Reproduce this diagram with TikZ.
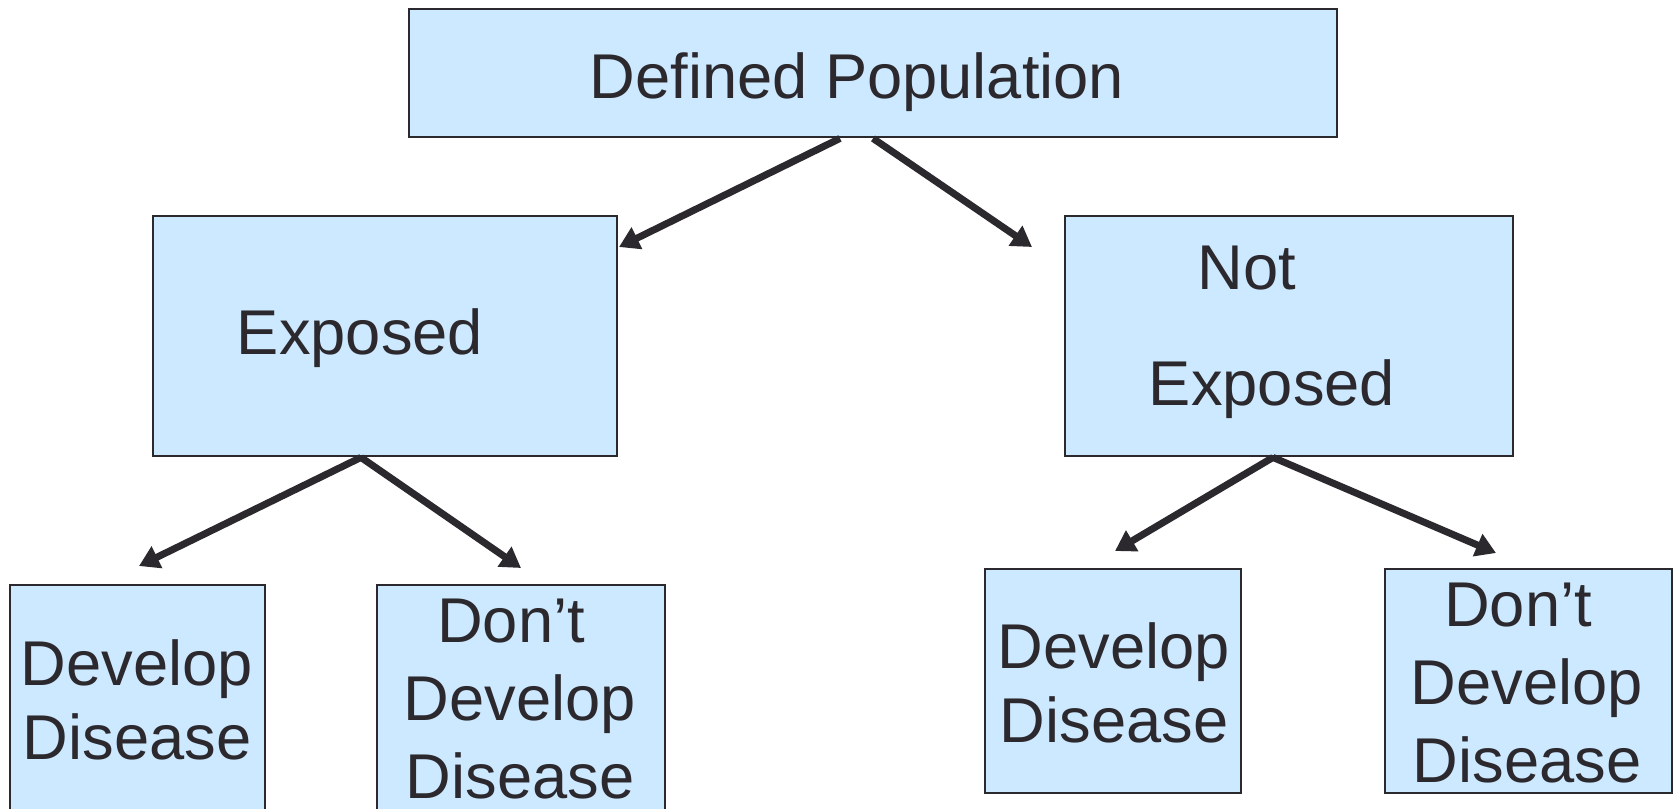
\documentclass[tikz,border=0pt]{standalone}
\usepackage{fontspec}
\setmainfont{Liberation Sans}
\usepackage{tikz}
\usetikzlibrary{arrows.meta}
\definecolor{boxblue}{RGB}{205,233,255}
\definecolor{inkgray}{RGB}{44,41,46}

\begin{document}
\begin{tikzpicture}[
    box/.style={draw=inkgray, line width=0.8pt, fill=boxblue, inner sep=0pt},
    txt/.style={text=inkgray, inner sep=0pt, align=center, font=\fontsize{18}{21}\selectfont},
    arr/.style={draw=inkgray, line width=2pt, -{Triangle[length=5.7pt,width=6.6pt]}}
  ]
    \useasboundingbox[fill=white] (0,0) rectangle (16.8,-8.08);
    % boxes
    \node[box, minimum width=9.28cm, minimum height=1.28cm] (pop) at (8.73,-0.73) {};
    \node[box, minimum width=4.64cm, minimum height=2.40cm] (expo) at (3.85,-3.36) {};
    \node[box, minimum width=4.48cm, minimum height=2.40cm] (noexpo) at (12.89,-3.36) {};
    \node[box, minimum width=2.55cm, minimum height=2.30cm] (dev1) at (1.375,-7.00) {};
    \node[box, minimum width=2.88cm, minimum height=2.30cm] (nodev1) at (5.21,-7.00) {};
    \node[box, minimum width=2.56cm, minimum height=2.24cm] (dev2) at (11.13,-6.81) {};
    \node[box, minimum width=2.87cm, minimum height=2.24cm] (nodev2) at (15.285,-6.81) {};
    % texts
    \node[txt, anchor=base] (popt) at (8.57,-0.986) {Defined Population};
    \node[txt, anchor=base] (expt) at (3.60,-3.54) {Exposed};
    \node[txt, anchor=base] (nott) at (12.47,-2.89) {Not};
    \node[txt, anchor=base] (noext) at (12.72,-4.05) {Exposed};
    \node[txt] (dev1t) at (1.37,-6.995) {Develop\\Disease};
    \node[txt, font=\fontsize{18}{22.3}\selectfont] (nodev1t) at (5.20,-6.99) {Don’t\kern0.18cm\\Develop\\Disease};
    \node[txt] (dev2t) at (11.14,-6.825) {Develop\\Disease};
    \node[txt, font=\fontsize{18}{22.3}\selectfont] (nodev2t) at (15.27,-6.83) {Don’t\kern0.18cm\\Develop\\Disease};
    % arrow ends
    \coordinate (e1) at (6.19,-2.47);
    \coordinate (e2) at (10.32,-2.47);
    \coordinate (e3) at (1.39,-5.66);
    \coordinate (e4) at (5.21,-5.68);
    \coordinate (e5) at (11.15,-5.51);
    \coordinate (e6) at (14.96,-5.53);
    \draw[arr] ([xshift=-0.33cm]pop.south) -- (e1);
    \draw[arr] (pop.south) -- (e2);
    \draw[arr] ([xshift=-0.24cm]expo.south) -- (e3);
    \draw[arr] ([xshift=-0.24cm]expo.south) -- (e4);
    \draw[arr] ([xshift=-0.16cm]noexpo.south) -- (e5);
    \draw[arr] ([xshift=-0.16cm]noexpo.south) -- (e6);
  \end{tikzpicture}
\end{document}
